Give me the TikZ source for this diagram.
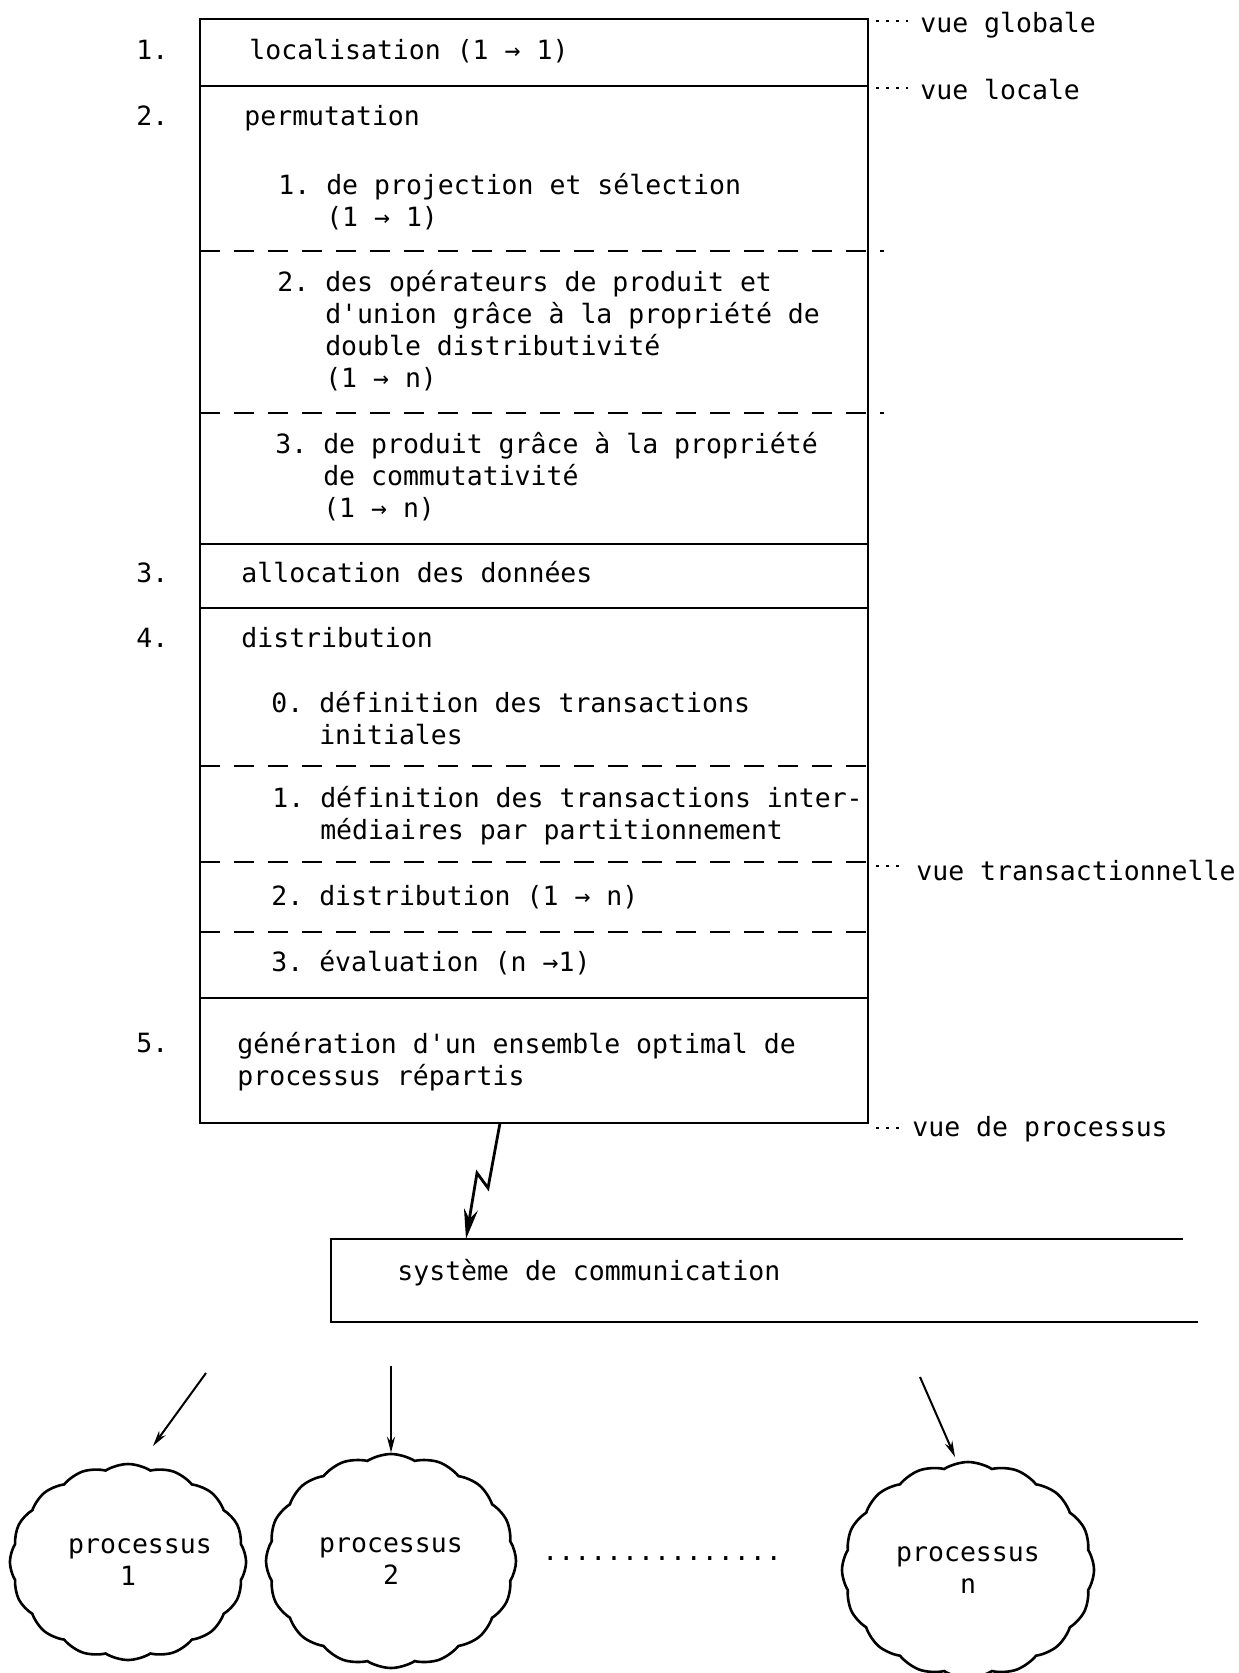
\documentclass[tikz,border=0pt]{standalone}
\usepackage{fontspec}
\newfontfamily\typew{DejaVu Sans Mono}
\usetikzlibrary{arrows.meta,shapes.symbols}
\frenchspacing

\begin{document}
\begin{tikzpicture}[x=0.5pt,y=-0.5pt,
		txt/.style={anchor=base west,inner sep=0pt,align=left,font=\typew\fontsize{13.25}{16}\selectfont},
		sep/.style={line width=1.2pt},
		dsep/.style={line width=1pt,dash pattern=on 10pt off 7pt},
		leader/.style={line width=1.3pt,dash pattern=on 1.4pt off 3.6pt},
		proc/.style={cloud,draw,line width=1.3pt,cloud puffs=16,cloud puff arc=65,cloud ignores aspect,
			align=center,inner sep=0pt,font=\typew\fontsize{13.25}{16}\selectfont},
		tip/.style={-{Stealth[length=8pt,width=4pt]},line width=1pt}]
		\useasboundingbox (0,0) rectangle (1238,1673);
		%
		% the stages
		\draw[sep] (200,19) rectangle (868,1123);
		\draw[sep] (200,86) -- (868,86);
		\draw[sep] (200,544) -- (868,544);
		\draw[sep] (200,608) -- (868,608);
		\draw[sep] (200,998) -- (868,998);
		\draw[dsep] (200,251) -- (884,251);
		\draw[dsep] (200,413) -- (884,413);
		\draw[dsep] (200,766) -- (868,766);
		\draw[dsep] (200,862) -- (868,862);
		\draw[dsep] (200,932) -- (868,932);
		%
		\node[txt] (n1) at (136,60) {1.};
		\node[txt] (n2) at (136,126) {2.};
		\node[txt] (n3) at (136,582) {3.};
		\node[txt] (n4) at (136,647) {4.};
		\node[txt] (n5) at (136,1052) {5.};
		%
		% multi-line texts sit on their last line
		\node[txt] (loc) at (249,60) {localisation (1 → 1)};
		\node[txt] (perm) at (244,126) {permutation};
		\node[txt] (perm1) at (278,227) {1. de projection et sélection\\\hphantom{1. }(1 → 1)};
		\node[txt] (perm2) at (277,388) {2. des opérateurs de produit et\\\hphantom{2. }d'union grâce à la propriété de\\\hphantom{2. }double distributivité\\\hphantom{2. }(1 → n)};
		\node[txt] (perm3) at (275,517) {3. de produit grâce à la propriété\\\hphantom{3. }de commutativité\\\hphantom{3. }(1 → n)};
		\node[txt] (alloc) at (241,582) {allocation des données};
		\node[txt] (dist) at (241,647) {distribution};
		\node[txt] (dist0) at (271,744) {0. définition des transactions\\\hphantom{0. }initiales};
		\node[txt] (dist1) at (272,839) {1. définition des transactions inter-\\\hphantom{1. }médiaires par partitionnement};
		\node[txt] (dist2) at (271,905) {2. distribution (1 → n)};
		\node[txt] (dist3) at (271,971) {3. évaluation (n →1)};
		\node[txt] (gen) at (237,1085) {génération d'un ensemble optimal de\\processus répartis};
		%
		% the views
		\coordinate (lg) at (868,21);
		\coordinate (ll) at (868,88);
		\coordinate (lt) at (868,866);
		\coordinate (lp) at (868,1128);
		\node[txt] (vglob) at (920,33) {vue globale};
		\node[txt] (vloc) at (920,100) {vue locale};
		\node[txt] (vtrans) at (916,880) {vue transactionnelle};
		\node[txt] (vproc) at (912,1136) {vue de processus};
		\draw[leader,shorten <=4pt,shorten >=6pt] (lg) -- (lg -| vglob.west);
		\draw[leader,shorten <=4pt,shorten >=6pt] (ll) -- (ll -| vloc.west);
		\draw[leader,shorten <=4pt,shorten >=6pt] (lt) -- (lt -| vtrans.west);
		\draw[leader,shorten <=4pt,shorten >=6pt] (lp) -- (lp -| vproc.west);
		%
		% communication system
		\draw[sep] (1183,1239) -- (331,1239) -- (331,1322) -- (1198,1322);
		\node[txt] (comm) at (397,1280) {système de communication};
		\coordinate (z0) at (500,1123);
		\coordinate (ctop) at (466,1239);
		\draw[line width=1.4pt,-{Stealth[length=15pt,width=7pt]}] (z0) -- (488,1188) -- (477,1173) -- (ctop);
		%
		% the processes
		\node[proc,minimum width=117pt,minimum height=98pt] (cloud1) at (128,1562) {\hspace*{12pt}processus\\1};
		\node[proc,minimum width=125pt,minimum height=107pt] (cloud2) at (391,1561) {processus\\2};
		\node[proc,minimum width=126pt,minimum height=108pt] (cloudn) at (968,1570) {processus\\n};
		\node[txt] (dots) at (542,1560) {...............};
		%
		\coordinate (a1) at (206,1373);
		\coordinate (e1) at (153,1446);
		\coordinate (a2) at (391,1366);
		\coordinate (an) at (920,1377);
		\coordinate (en) at (955,1457);
		\draw[tip] (a1) -- (e1);
		\draw[tip] (a2) -- (cloud2.north);
		\draw[tip] (an) -- (en);
\end{tikzpicture}
\end{document}
